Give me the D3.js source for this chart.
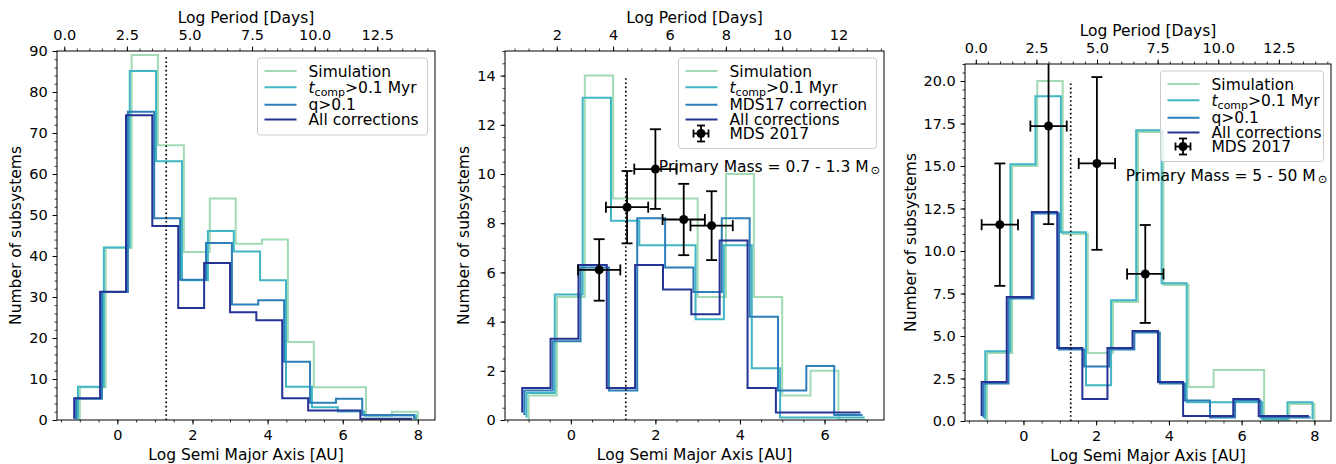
<!DOCTYPE html>
<html>
<head>
<meta charset="utf-8">
<script src="https://cdn.jsdelivr.net/npm/d3@7"></script>
<style>
  body { margin: 0; background: #fff; }
  svg text { font-family: "DejaVu Sans", sans-serif; fill: #000; }
</style>
</head>
<body>
<svg id="chart" width="1336" height="464"></svg>
<script>
// histogram bin edges, log semi major axis [AU]
const edgesWide = [-1.0, -0.31, 0.38, 1.08, 1.77, 2.46, 3.15, 3.85, 4.54, 5.23, 5.92, 6.62, 7.31, 8.0];
const edgesNarrow = [-1.0, -0.33, 0.33, 1.0, 1.67, 2.33, 3.0, 3.67, 4.33, 5.0, 5.67, 6.33, 7.0];

// panel 1 - all primaries
const allSim = [8, 42, 89, 67, 41, 54, 43, 44, 19, 8, 8, 1, 2];
const allTcomp = [8, 42, 85, 63, 34, 46, 41, 34, 8, 3, 2, 1, 1];
const allQ = [5, 31, 75, 49, 34, 43, 28, 29, 14, 4, 5, 1, 1];
const allCorr = [5, 31, 74, 47, 27, 38, 26, 24, 5, 2, 2, 0, 0];

// panel 2 - solar type primaries
const solSim = [1, 5, 14, 9, 9, 9, 5, 10, 5, 1, 2, 0];
const solTcomp = [1, 5, 13, 8, 7, 7, 4, 7, 2, 0, 0, 0];
const solMds = [1, 3, 6, 1, 8, 6, 5, 8, 4, 1, 2, 0];
const solCorr = [1, 3, 6, 1, 6, 5, 4, 7, 1, 0, 0, 0];
const solObsX = [0.67, 1.33, 2.0, 2.67, 3.33];
const solObsY = [6.1, 8.65, 10.2, 8.15, 7.9];
const solObsXerr = [0.5, 0.5, 0.5, 0.5, 0.5];
const solObsYerr = [1.25, 1.47, 1.62, 1.45, 1.4];

// panel 3 - massive primaries
const oSim = [4, 15, 20, 11, 4, 7, 17, 8, 2, 3, 3, 0, 1];
const oTcomp = [4, 15, 19, 11, 2, 7, 17, 8, 1, 1, 1, 0, 1];
const oQ = [2, 7, 12, 4, 3, 4, 5, 2, 1, 0, 1, 0, 0];
const oCorr = [2, 7, 12, 4, 1, 4, 5, 2, 0, 0, 1, 0, 0];
const oObsX = [-0.65, 0.69, 2.02, 3.35];
const oObsY = [11.55, 17.35, 15.15, 8.65];
const oObsXerr = [0.5, 0.5, 0.5, 0.5];
const oObsYerr = [3.6, 5.77, 5.08, 2.88];

const namesQ = ['Simulation', 'tcomp', 'q>0.1', 'All corrections'];
const namesMds = ['Simulation', 'tcomp', 'MDS17 correction', 'All corrections'];
const obsName = 'MDS 2017';

const yTicks1 = [0, 10, 20, 30, 40, 50, 60, 70, 80, 90];
const yTicks2 = [0, 2, 4, 6, 8, 10, 12, 14];
const yTicks3 = [0, 2.5, 5, 7.5, 10, 12.5, 15, 17.5, 20];
const xTicks1 = [0, 2, 4, 6, 8];
const xTicks2 = [0, 2, 4, 6];
const pTicks1 = [0, 2.5, 5, 7.5, 10, 12.5];
const pTicks2 = [2, 4, 6, 8, 10, 12];
const cutA = 1.3;

const colors = ['#a1dab4', '#41b6c4', '#2c7fb8', '#253494'];

const panels = [
  { left: 57, right: 435, top: 51, bottom: 420, edges: edgesWide,
    series: [allSim, allTcomp, allQ, allCorr], names: namesQ, ymax: 90,
    yTicks: yTicks1, yMinor: 2, yFmt: d3.format('d'), xTicks: xTicks1,
    pC: 2.12, pTicks: pTicks1, pFmt: d3.format('.1f'),
    obs: null, mass: null, legW: 170, yLabX: -36.5 },
  { left: 505, right: 884, top: 51, bottom: 420, edges: edgesNarrow,
    series: [solSim, solTcomp, solMds, solCorr], names: namesMds, ymax: 15,
    yTicks: yTicks2, yMinor: 0.5, yFmt: d3.format('d'), xTicks: xTicks2,
    pC: 2.5, pTicks: pTicks2, pFmt: d3.format('d'),
    obs: { x: solObsX, y: solObsY, xe: solObsXerr, ye: solObsYerr },
    mass: ['Primary Mass = 0.7 - 1.3 M'], legW: 198, yLabX: -36.5 },
  { left: 965, right: 1331, top: 64, bottom: 421, edges: edgesWide,
    series: [oSim, oTcomp, oQ, oCorr], names: namesQ, ymax: 21,
    yTicks: yTicks3, yMinor: 0.5, yFmt: d3.format('.1f'), xTicks: xTicks1,
    pC: 1.965, pTicks: pTicks1, pFmt: d3.format('.1f'),
    obs: { x: oObsX, y: oObsY, xe: oObsXerr, ye: oObsYerr },
    mass: ['Primary Mass = 5 - 50 M'], legW: 163, yLabX: -49.5 }
];

const svg = d3.select('#chart');

function stepPoints(edges, counts, dx, dy) {
  const pts = [[edges[0] + dx, dy]];
  counts.forEach(function (c, i) {
    pts.push([edges[i] + dx, c + dy]);
    pts.push([edges[i + 1] + dx, c + dy]);
  });
  pts.push([edges[edges.length - 1] + dx, dy]);
  return pts;
}

function minorValues(domain, step) {
  const lo = Math.ceil(domain[0] / step) * step;
  return d3.range(lo, domain[1] + 1e-9, step);
}

function styleAxis(g, size) {
  g.select('.domain').remove();
  g.selectAll('line').attr('stroke', '#000').attr('stroke-width', 1);
  g.selectAll('text').attr('font-size', size).attr('font-family', '"DejaVu Sans", sans-serif').attr('fill', '#000');
}

function writeLabel(text, name, size) {
  if (name === 'tcomp') {
    text.append('tspan').attr('font-style', 'italic').text('t');
    text.append('tspan').attr('font-size', size * 0.71).attr('dy', 3.5).text('comp');
    text.append('tspan').attr('dy', -3.5).text('>0.1 Myr');
  } else {
    text.text(name);
  }
}

panels.forEach(function (p, pi) {
  const e = p.edges;
  const lo = e[0] - 0.15;
  const hi = e[e.length - 1];
  const pad = 0.05 * (hi - lo);
  const x = d3.scaleLinear().domain([lo - pad, hi + pad]).range([p.left, p.right]);
  const y = d3.scaleLinear().domain([0, p.ymax]).range([p.bottom, p.top]);
  const xd = x.domain();
  const xp = d3.scaleLinear().domain([1.5 * xd[0] + p.pC, 1.5 * xd[1] + p.pC]).range([p.left, p.right]);

  const clipId = 'clip' + pi;
  svg.append('clipPath').attr('id', clipId)
    .append('rect')
    .attr('x', p.left).attr('y', p.top)
    .attr('width', p.right - p.left).attr('height', p.bottom - p.top);

  const plot = svg.append('g').attr('clip-path', 'url(#' + clipId + ')');

  // histograms, each one nudged a little so the outlines stay visible
  const line = d3.line().x(function (d) { return x(d[0]); }).y(function (d) { return y(d[1]); });
  p.series.forEach(function (s, i) {
    plot.append('path')
      .attr('d', line(stepPoints(e, s, -0.05 * i, 0.1 * i)))
      .attr('fill', 'none')
      .attr('stroke', colors[i])
      .attr('stroke-width', 2)
      .attr('stroke-linejoin', 'miter');
  });

  // separation cut
  plot.append('line')
    .attr('x1', x(cutA)).attr('x2', x(cutA))
    .attr('y1', y(0)).attr('y2', y(d3.max(p.series[0])))
    .attr('stroke', '#000').attr('stroke-width', 1.7)
    .attr('stroke-dasharray', '1.6,2.6');

  // observed points
  if (p.obs) {
    const o = p.obs;
    const eb = plot.append('g').attr('stroke', '#000').attr('stroke-width', 1.8);
    o.x.forEach(function (xv, i) {
      const cx = x(xv), cy = y(o.y[i]);
      const x0 = x(xv - o.xe[i]), x1 = x(xv + o.xe[i]);
      const y0 = y(o.y[i] - o.ye[i]), y1 = y(o.y[i] + o.ye[i]);
      eb.append('line').attr('x1', x0).attr('x2', x1).attr('y1', cy).attr('y2', cy);
      eb.append('line').attr('x1', cx).attr('x2', cx).attr('y1', y0).attr('y2', y1);
      eb.append('line').attr('x1', x0).attr('x2', x0).attr('y1', cy - 5.5).attr('y2', cy + 5.5);
      eb.append('line').attr('x1', x1).attr('x2', x1).attr('y1', cy - 5.5).attr('y2', cy + 5.5);
      eb.append('line').attr('x1', cx - 5.5).attr('x2', cx + 5.5).attr('y1', y0).attr('y2', y0);
      eb.append('line').attr('x1', cx - 5.5).attr('x2', cx + 5.5).attr('y1', y1).attr('y2', y1);
      eb.append('circle').attr('cx', cx).attr('cy', cy).attr('r', 4.5).attr('fill', '#000').attr('stroke', 'none');
    });
  }

  // axes
  const gl = svg.append('g').attr('transform', 'translate(' + p.left + ',0)');
  gl.call(d3.axisLeft(y).tickValues(minorValues(y.domain(), p.yMinor)).tickFormat('').tickSize(2.5).tickSizeOuter(0));
  styleAxis(gl, 14.5);
  gl.selectAll('line').attr('stroke-width', 0.8);
  const glm = svg.append('g').attr('transform', 'translate(' + p.left + ',0)');
  glm.call(d3.axisLeft(y).tickValues(p.yTicks).tickFormat(p.yFmt).tickSize(4.5).tickPadding(4.8).tickSizeOuter(0));
  styleAxis(glm, 14.5);

  const gb = svg.append('g').attr('transform', 'translate(0,' + p.bottom + ')');
  gb.call(d3.axisBottom(x).tickValues(minorValues(xd, 0.5)).tickFormat('').tickSize(2.5).tickSizeOuter(0));
  styleAxis(gb, 14.5);
  gb.selectAll('line').attr('stroke-width', 0.8);
  const gbm = svg.append('g').attr('transform', 'translate(0,' + p.bottom + ')');
  gbm.call(d3.axisBottom(x).tickValues(p.xTicks).tickFormat(d3.format('d')).tickSize(4.5).tickPadding(5.2).tickSizeOuter(0));
  styleAxis(gbm, 14.5);

  const gt = svg.append('g').attr('transform', 'translate(0,' + p.top + ')');
  gt.call(d3.axisTop(xp).tickValues(minorValues(xp.domain(), 0.5)).tickFormat('').tickSize(2.5).tickSizeOuter(0));
  styleAxis(gt, 14.5);
  gt.selectAll('line').attr('stroke-width', 0.8);
  const gtm = svg.append('g').attr('transform', 'translate(0,' + p.top + ')');
  gtm.call(d3.axisTop(xp).tickValues(p.pTicks).tickFormat(p.pFmt).tickSize(4.5).tickPadding(7).tickSizeOuter(0));
  styleAxis(gtm, 14.5);

  svg.append('rect')
    .attr('x', p.left).attr('y', p.top)
    .attr('width', p.right - p.left).attr('height', p.bottom - p.top)
    .attr('fill', 'none').attr('stroke', '#000').attr('stroke-width', 1);

  // axis titles
  const cx = (p.left + p.right) / 2;
  svg.append('text').attr('x', cx).attr('y', p.top - 28)
    .attr('text-anchor', 'middle').attr('font-size', 15.5).text('Log Period [Days]');
  svg.append('text').attr('x', cx).attr('y', p.bottom + 40)
    .attr('text-anchor', 'middle').attr('font-size', 15.5).text('Log Semi Major Axis [AU]');
  svg.append('text')
    .attr('transform', 'translate(' + (p.left + p.yLabX) + ',' + ((p.top + p.bottom) / 2) + ') rotate(-90)')
    .attr('text-anchor', 'middle').attr('font-size', 15.5).text('Number of subsystems');

  // mass range note
  if (p.mass) {
    const t = svg.append('text')
      .attr('x', p.left + 0.99 * (p.right - p.left))
      .attr('y', p.bottom - 0.673 * (p.bottom - p.top))
      .attr('text-anchor', 'end').attr('font-size', 15.5);
    t.append('tspan').text(p.mass[0]);
    t.append('tspan').attr('font-size', 11.5).attr('dx', 2).attr('dy', 2.5).text('\u2299');
  }

  // legend
  const rows = p.names.map(function (n, i) { return { name: n, kind: 'line', color: colors[i] }; });
  if (p.obs) rows.push({ name: obsName, kind: 'err' });
  const legH = 77 + 13.5 * (rows.length - 4);
  const lx = p.right - 7.5 - p.legW;
  const ly = p.top + 7;
  const leg = svg.append('g').attr('transform', 'translate(' + lx + ',' + ly + ')');
  leg.append('rect')
    .attr('width', p.legW).attr('height', legH).attr('rx', 3)
    .attr('fill', '#fff').attr('fill-opacity', 0.8)
    .attr('stroke', '#cccccc').attr('stroke-width', 1);
  const rowY = [13, 29.3, 46.7, 61.5, 75.5];
  rows.forEach(function (r, i) {
    const ry = rowY[i];
    if (r.kind === 'line') {
      leg.append('line').attr('x1', 7).attr('x2', 39).attr('y1', ry).attr('y2', ry)
        .attr('stroke', r.color).attr('stroke-width', 2);
    } else {
      const g = leg.append('g').attr('stroke', '#000').attr('stroke-width', 1.8);
      const mx = 22.5;
      g.append('line').attr('x1', mx - 7.5).attr('x2', mx + 7.5).attr('y1', ry).attr('y2', ry);
      g.append('line').attr('x1', mx).attr('x2', mx).attr('y1', ry - 8).attr('y2', ry + 8);
      g.append('line').attr('x1', mx - 7.5).attr('x2', mx - 7.5).attr('y1', ry - 4).attr('y2', ry + 4);
      g.append('line').attr('x1', mx + 7.5).attr('x2', mx + 7.5).attr('y1', ry - 4).attr('y2', ry + 4);
      g.append('line').attr('x1', mx - 4).attr('x2', mx + 4).attr('y1', ry - 8).attr('y2', ry - 8);
      g.append('line').attr('x1', mx - 4).attr('x2', mx + 4).attr('y1', ry + 8).attr('y2', ry + 8);
      g.append('circle').attr('cx', mx).attr('cy', ry).attr('r', 4.5).attr('fill', '#000').attr('stroke', 'none');
    }
    const t = leg.append('text').attr('x', 51).attr('y', ry + 5.5).attr('font-size', 15.5);
    writeLabel(t, r.name, 15.5);
  });
});
</script>
</body>
</html>
